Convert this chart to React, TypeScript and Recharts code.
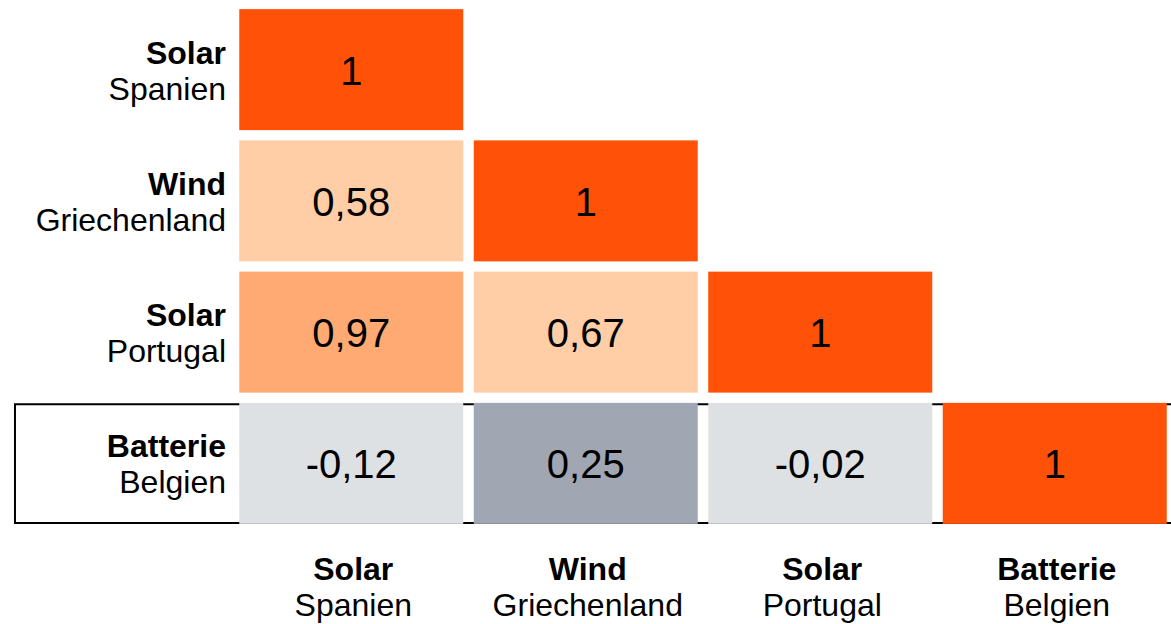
import { ScatterChart, Scatter, XAxis, YAxis, ReferenceArea } from 'recharts';

const categories = ['Solar', 'Wind', 'Solar', 'Batterie'];
const regions = ['Spanien', 'Griechenland', 'Portugal', 'Belgien'];

// lower triangle of the correlation matrix, one array per row
const rowSolarSpanien = [1];
const rowWindGriechenland = [0.58, 1];
const rowSolarPortugal = [0.97, 0.67, 1];
const rowBatterieBelgien = [-0.12, 0.25, -0.02, 1];

const rows = [rowSolarSpanien, rowWindGriechenland, rowSolarPortugal, rowBatterieBelgien];
const ticks = [0.5, 1.5, 2.5, 3.5];

const FONT = '"Liberation Sans", Arial, sans-serif';

const cells = rows.flatMap((vals, r) =>
  vals.map((value, c) => ({ x: c + 0.5, y: r + 0.5, value, battery: categories[r] === 'Batterie' && c !== r }))
);

function cellColor(value: number, battery: boolean) {
  if (value === 1) return '#FF5208';
  if (battery) return Math.abs(value) < 0.2 ? '#DEE1E4' : '#A0A7B2';
  if (value > 0.9) return '#FFAA72';
  return '#FFCDA6';
}

function fmt(v: number) {
  return v === 1 ? '1' : v.toFixed(2).replace('.', ',');
}

const Cell = (props: any) => {
  const { cx, cy, payload } = props;
  return (
    <g>
      <rect x={cx - 112} y={cy - 60.5} width={224} height={121} fill={cellColor(payload.value, payload.battery)} />
      <text x={cx} y={cy + 15} textAnchor="middle" fontSize={40} fontFamily={FONT} fill="#000">
        {fmt(payload.value)}
      </text>
    </g>
  );
};

const LeftTick = (props: any) => {
  const { x, y, payload } = props;
  const i = Math.floor(payload.value);
  return (
    <g fontFamily={FONT} fill="#000">
      <text x={x} y={y - 6} textAnchor="end" fontSize={32} fontWeight="bold">{categories[i]}</text>
      <text x={x} y={y + 30} textAnchor="end" fontSize={32}>{regions[i]}</text>
    </g>
  );
};

const BottomTick = (props: any) => {
  const { x, y, payload } = props;
  const i = Math.floor(payload.value);
  return (
    <g fontFamily={FONT} fill="#000">
      <text x={x + 2} y={y + 43} textAnchor="middle" fontSize={32} fontWeight="bold">{categories[i]}</text>
      <text x={x + 2} y={y + 79} textAnchor="middle" fontSize={32}>{regions[i]}</text>
    </g>
  );
};

export default function App() {
  return (
    <div style={{ position: 'absolute', left: 0, top: 0, width: 1171, height: 624, overflow: 'hidden', background: '#fff' }}>
      <ScatterChart width={1172} height={624} margin={{ top: 4, right: 0, bottom: 0, left: 0 }}>
        <XAxis
          type="number"
          dataKey="x"
          domain={[0, 4]}
          ticks={ticks}
          interval={0}
          axisLine={false}
          tickLine={false}
          height={95}
          tick={<BottomTick />}
        />
        <YAxis
          type="number"
          dataKey="y"
          domain={[0, 4]}
          ticks={ticks}
          interval={0}
          reversed
          axisLine={false}
          tickLine={false}
          width={234}
          tick={<LeftTick />}
        />
        <Scatter data={cells} shape={<Cell />} isAnimationActive={false} />
        <ReferenceArea
          x1={-0.934}
          x2={4.1}
          y1={3.05}
          y2={3.955}
          fill="none"
          fillOpacity={0}
          stroke="#000"
          strokeWidth={2}
          ifOverflow="visible"
        />
      </ScatterChart>
    </div>
  );
}
